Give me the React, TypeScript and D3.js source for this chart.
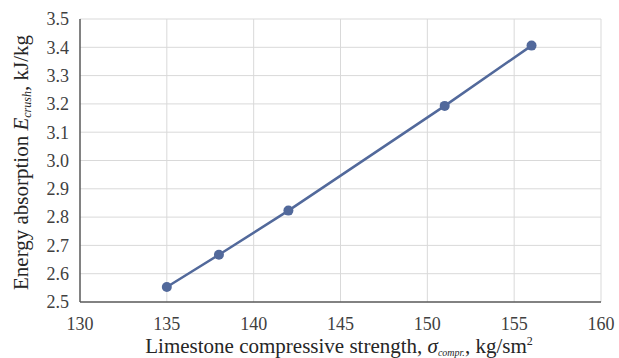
import React, { useEffect, useRef } from "react";
import * as d3 from "d3";

const strength = [135, 138, 142, 151, 156];
const energy = [2.553, 2.667, 2.823, 3.193, 3.406];
const xTicks = [130, 135, 140, 145, 150, 155, 160];
const yTicks = [2.5, 2.6, 2.7, 2.8, 2.9, 3.0, 3.1, 3.2, 3.3, 3.4, 3.5];

export default function App() {
  const ref = useRef<SVGSVGElement>(null);

  useEffect(() => {
    if (!ref.current) return;
    const svg = d3.select(ref.current);
    svg.selectAll("*").remove();

    const left = 80, right = 601, top = 19, bottom = 302;
    const font = "Liberation Serif";

    const x = d3.scaleLinear().domain([130, 160]).range([left, right]);
    const y = d3.scaleLinear().domain([2.5, 3.5]).range([bottom, top]);

    // grid
    svg.append("g")
      .selectAll("line")
      .data(xTicks.slice(1))
      .enter()
      .append("line")
      .attr("x1", (d) => x(d)).attr("x2", (d) => x(d))
      .attr("y1", top).attr("y2", bottom)
      .attr("stroke", "#d9d9d9").attr("stroke-width", 1);
    svg.append("g")
      .selectAll("line")
      .data(yTicks.slice(1))
      .enter()
      .append("line")
      .attr("x1", left).attr("x2", right)
      .attr("y1", (d) => y(d)).attr("y2", (d) => y(d))
      .attr("stroke", "#d9d9d9").attr("stroke-width", 1);

    // axis lines
    svg.append("line")
      .attr("x1", left).attr("x2", left).attr("y1", top).attr("y2", bottom)
      .attr("stroke", "#595959").attr("stroke-width", 1.5);
    svg.append("line")
      .attr("x1", left).attr("x2", right).attr("y1", bottom).attr("y2", bottom)
      .attr("stroke", "#595959").attr("stroke-width", 1.5);

    // tick labels
    svg.append("g")
      .selectAll("text")
      .data(yTicks)
      .enter()
      .append("text")
      .attr("x", left - 11)
      .attr("y", (d) => y(d))
      .attr("dy", "0.35em")
      .attr("text-anchor", "end")
      .attr("font-family", font).attr("font-size", 18).attr("fill", "#404040")
      .text((d) => d.toFixed(1));
    svg.append("g")
      .selectAll("text")
      .data(xTicks)
      .enter()
      .append("text")
      .attr("x", (d) => x(d))
      .attr("y", bottom + 28)
      .attr("text-anchor", "middle")
      .attr("font-family", font).attr("font-size", 18).attr("fill", "#404040")
      .text((d) => d);

    // series
    const data = strength.map((s, i) => ({ s, e: energy[i] }));
    const line = d3.line<any>().x((d) => x(d.s)).y((d) => y(d.e));
    svg.append("path")
      .datum(data)
      .attr("fill", "none")
      .attr("stroke", "#52699b")
      .attr("stroke-width", 2.5)
      .attr("d", line);
    svg.selectAll(".dot")
      .data(data)
      .enter()
      .append("circle")
      .attr("class", "dot")
      .attr("cx", (d) => x(d.s))
      .attr("cy", (d) => y(d.e))
      .attr("r", 5)
      .attr("fill", "#52699b");

    // axis titles
    const xt = svg.append("text")
      .attr("x", 339)
      .attr("y", 353)
      .attr("text-anchor", "middle")
      .attr("font-family", font).attr("font-size", 21).attr("fill", "#262626");
    xt.append("tspan").text("Limestone compressive strength, ");
    xt.append("tspan").attr("font-style", "italic").text("σ");
    xt.append("tspan").attr("font-style", "italic").attr("font-size", 10).attr("dy", 3).text("compr.");
    xt.append("tspan").attr("dy", -3).text(", kg/sm");
    xt.append("tspan").attr("font-size", 12).attr("dy", -8).text("2");

    const yt = svg.append("text")
      .attr("transform", `translate(28,${(top + bottom) / 2 + 2}) rotate(-90)`)
      .attr("text-anchor", "middle")
      .attr("font-family", font).attr("font-size", 21).attr("fill", "#262626");
    yt.append("tspan").text("Energy absorption ");
    yt.append("tspan").attr("font-style", "italic").text("E");
    yt.append("tspan").attr("font-style", "italic").attr("font-size", 12).attr("dy", 3).text("crush");
    yt.append("tspan").attr("dy", -3).text(", kJ/kg");
  }, []);

  return (
    <svg
      ref={ref}
      width={619}
      height={358}
      style={{ position: "absolute", left: 0, top: 0, background: "#fff" }}
    />
  );
}
